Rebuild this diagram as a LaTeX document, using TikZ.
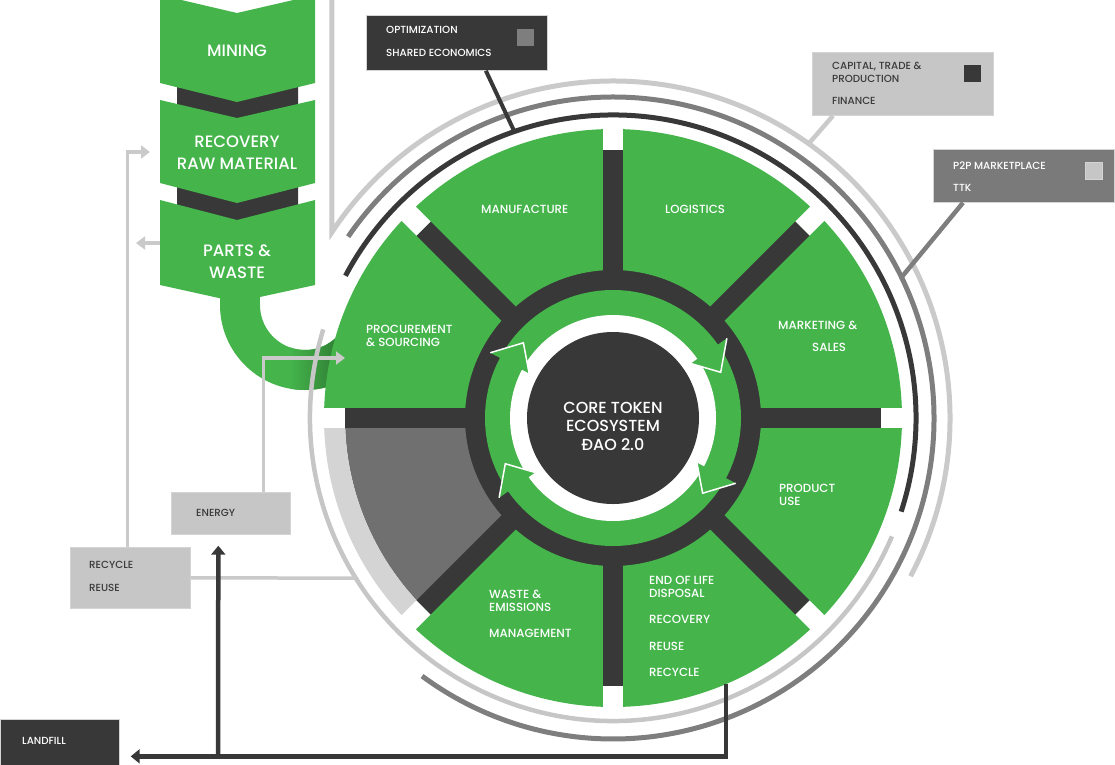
\documentclass[tikz,border=0pt]{standalone}
\usepackage{fontspec}
\setmainfont{Poppins Medium}
\usetikzlibrary{calc,arrows.meta,positioning}
\definecolor{ecogreen}{HTML}{44B44B}
\definecolor{ecodark}{HTML}{383838}
\definecolor{ecogray}{HTML}{707070}
\definecolor{ecomid}{HTML}{7E7E7E}
\definecolor{ecobox}{HTML}{7A7A7A}
\definecolor{ecolight}{HTML}{C6C6C6}
\definecolor{ecopale}{HTML}{D4D4D4}
\definecolor{ecoline}{HTML}{CACACA}
\definecolor{ecotext}{HTML}{3A3A3A}
\tikzset{
  chev/.style={fill=ecogreen},
  chevlbl/.style={text=white, font=\fontsize{16.5}{22}\selectfont, align=center, inner sep=0pt},
  seclbl/.style={text=white, font=\fontsize{11.8}{13}\selectfont, align=left, anchor=west, inner sep=0pt},
  corelbl/.style={text=white, font=\fontsize{16}{18.5}\selectfont, align=center, inner sep=0pt},
  infobox/.style={draw=ecopale, line width=0.7pt, anchor=north west, inner sep=0pt},
  boxlbl/.style={font=\fontsize{10.3}{11}\selectfont, align=left, anchor=west, inner sep=0pt},
  swatch/.style={minimum size=17pt, inner sep=0pt},
  ring/.style={line width=5pt},
  lgline/.style={ecoline, line width=3.5pt},
  lgarrow/.style={lgline, -{Triangle[length=9pt,width=13pt]}},
  dkarrow/.style={ecodark, line width=4.5pt, -{Triangle[length=9pt,width=14pt]}},
}
\begin{document}
\begin{tikzpicture}[x=1pt,y=1pt]
  \useasboundingbox (0,0) rectangle (1115,-764);
  \coordinate (C) at (613,-418);

  % --- Pipe from parts & waste into procurement ---
  \fill[ecogreen] (220,-288) rectangle (260,-306);
  \begin{scope}[shift={(305,-305)}]
    \path[fill=ecogreen] (180:85) arc[start angle=180, end angle=350, radius=85]
      -- (350:45) arc[start angle=350, end angle=180, radius=45] -- cycle;
    \clip (180:85) arc[start angle=180, end angle=350, radius=85]
      -- (350:45) arc[start angle=350, end angle=180, radius=45] -- cycle;
    \shade[left color=ecogreen, right color=ecogreen!72!black] (-15,-30) rectangle (30,-95);
  \end{scope}

  % --- Wheel ---
  \begin{scope}[shift={(C)}]
    \fill[ecodark] (0,0) circle (150);
    % green sectors
    \fill[ecogreen] (-135:148) arc[start angle=-135, end angle=180, radius=148]
      -- (180:289) arc[start angle=180, end angle=-135, radius=289] -- cycle;
    % grey sector
    \fill[ecogray] (180:148) arc[start angle=180, end angle=225, radius=148]
      -- (225:268) arc[start angle=225, end angle=180, radius=268] -- cycle;
    \fill[ecopale] (180:268) arc[start angle=180, end angle=225, radius=268]
      -- (225:289) arc[start angle=225, end angle=180, radius=289] -- cycle;
    % dividers
    \foreach \a in {0,45,...,315} {
      \fill[ecodark, rotate=\a] (128,-10) rectangle (268,10);
      \fill[white, rotate=\a] (268,-10) rectangle (295,10);
    }
    % inner ring with arrows
    \fill[ecogreen] (0,0) circle (128);
    \fill[white] (0,0) circle (103);
    \foreach \t in {140,23,-40,-157} {
      \fill[ecogreen] (\t+12:139) -- (\t:117) -- (\t+12:95) -- cycle;
      \draw[white, line width=1.5pt] (\t+12:139) -- (\t:117) -- (\t+12:95);
    }
    \fill[ecodark] (0,0) circle (86);

    % outer rings
    \draw[ecolight, line width=4.5pt] (163:303) arc[start angle=163, end angle=337, radius=303];
    \draw[ecodark, ring] (152:303) arc[start angle=152, end angle=-18, radius=303];
    \draw[ecomid, ring] (145.6:321) arc[start angle=145.6, end angle=-126.5, radius=321];
    \draw[ecoline, ring] ($(146.5:337)+(0,425)$) -- (146.5:337)
      arc[start angle=146.5, end angle=-28, radius=337];

    \coordinate (optpin) at (109:303);
    \coordinate (cappin) at (54.5:337);
    \coordinate (p2ppin) at (26:321);
    \coordinate (recpin) at (211.9:303);
  \end{scope}

  % --- Wheel labels ---
  \node[corelbl] (core) at (613,-426) {CORE TOKEN\\ECOSYSTEM\\ĐAO 2.0};
  \node[seclbl] (manuf) at (481,-209) {MANUFACTURE};
  \node[seclbl] (logist) at (665,-209) {LOGISTICS};
  \node[seclbl] (market) at (778,-325) {MARKETING \&};
  \node[seclbl] (sales) at (812,-347) {SALES};
  \node[seclbl] (product) at (779,-494.5) {PRODUCT\\USE};
  \node[seclbl] (procure) at (366,-335.5) {PROCUREMENT\\\& SOURCING};
  \node[seclbl] (wastem) at (489,-613.5) {WASTE \&\\EMISSIONS\\[13pt]MANAGEMENT};
  \node[seclbl] (eol) at (649,-626) {END OF LIFE\\DISPOSAL\\[13pt]RECOVERY\\[14pt]REUSE\\[13pt]RECYCLE};

  % --- Chevron column ---
  \fill[ecodark] (177,-85) -- (237,-100) -- (298,-85) -- (298,-106) -- (237,-121) -- (177,-106) -- cycle;
  \fill[ecodark] (177,-185) -- (237,-200) -- (298,-185) -- (298,-206) -- (237,-221) -- (177,-206) -- cycle;
  \fill[chev] (160,5) -- (237,-13) -- (315,5) -- (315,-83) -- (237,-102) -- (160,-83) -- cycle;
  \fill[chev] (160,-100) -- (237,-118) -- (315,-100) -- (315,-183) -- (237,-203) -- (160,-183) -- cycle;
  \fill[chev] (160,-200) -- (237,-220) -- (315,-200) -- (315,-285) -- (237,-302) -- (160,-285) -- cycle;
  \node[chevlbl] (mining) at (237,-50.5) {MINING};
  \node[chevlbl] (recovery) at (237,-152.5) {RECOVERY\\RAW MATERIAL};
  \node[chevlbl] (parts) at (237,-261.5) {PARTS \&\\WASTE};
  \coordinate (recin) at (150,-152);
  \coordinate (partsw) at (160,-243);
  \coordinate (partsout) at (136,-243);
  \coordinate (procin) at (345,-358);

  % --- Info boxes ---
  \node[infobox, fill=ecodark, minimum width=181pt, minimum height=55pt] (optbox) at (366,-15) {};
  \node[swatch, fill=ecomid] (optsq) at (525.5,-37.5) {};
  \node[boxlbl, text=white] (optim) at (386,-30) {OPTIMIZATION};
  \node[boxlbl, text=white] (shared) at (386,-53) {SHARED ECONOMICS};

  \node[infobox, fill=ecolight, minimum width=181pt, minimum height=63pt] (capbox) at (812,-52) {};
  \node[swatch, fill=ecodark] (capsq) at (972.5,-73.5) {};
  \node[boxlbl, text=ecotext] (capital) at (832,-67) {CAPITAL, TRADE \&};
  \node[boxlbl, text=ecotext] (product2) at (832,-78.7) {PRODUCTION};
  \node[boxlbl, text=ecotext] (finance) at (832,-100.7) {FINANCE};

  \node[infobox, fill=ecobox, minimum width=181pt, minimum height=53pt] (p2pbox) at (933,-149) {};
  \node[swatch, fill=ecolight, draw=ecopale, line width=0.7pt] (p2psq) at (1094,-170.5) {};
  \node[boxlbl, text=white] (p2p) at (953,-165.7) {P2P MARKETPLACE};
  \node[boxlbl, text=white] (ttk) at (953,-187.7) {TTK};

  \node[infobox, fill=ecolight, minimum width=119pt, minimum height=42pt] (energy) at (171,-492) {};
  \node[boxlbl, text=ecotext] (enlbl) at (196,-513) {ENERGY};

  \node[infobox, fill=ecolight, minimum width=120pt, minimum height=61pt] (recycle) at (70,-547) {};
  \node[boxlbl, text=ecotext] (reclbl) at (89,-565) {RECYCLE};
  \node[boxlbl, text=ecotext] (reulbl) at (89,-588) {REUSE};

  \node[infobox, fill=ecodark, minimum width=119pt, minimum height=47pt] (landfill) at (0,-719) {};
  \node[boxlbl, text=white] (lflbl) at (22,-740.5) {LANDFILL};

  % --- Connectors ---
  \draw[ecodark, line width=4pt] ([xshift=29pt]optbox.south) -- (optpin);
  \draw[ecoline, line width=4.5pt] ([xshift=21pt]capbox.south west) -- (cappin);
  \draw[ecomid, line width=4.5pt] ([xshift=30pt]p2pbox.south west) -- (p2ppin);

  \draw[lgarrow] ([xshift=-3pt]recycle.north) |- (recin);
  \draw[lgarrow] (partsw) -- (partsout);
  \draw[lgarrow] ([xshift=32.5pt]energy.north) |- (procin);
  \draw[lgline] (recycle.east) -- (recpin);

  \coordinate (eolout) at (726,-684);
  \coordinate (split) at (218,-755);
  \draw[dkarrow, shorten >=11pt] (eolout) |- ([yshift=-13.5pt]landfill.east);
  \draw[dkarrow, shorten >=11pt] (split) -- ([xshift=-12.5pt]energy.south);
\end{tikzpicture}
\end{document}
